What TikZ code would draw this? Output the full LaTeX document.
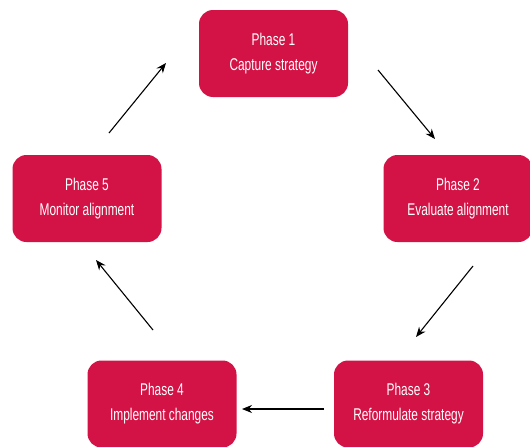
\documentclass[tikz,border=0pt]{standalone}
\usepackage{fontspec}
\setmainfont{Liberation Sans}[FakeStretch=0.7]
\usepackage{tikz}
\usetikzlibrary{arrows.meta}
\definecolor{phasered}{HTML}{D31245}
\tikzset{phase/.style={rectangle, rounded corners=14pt, fill=phasered, text=white, minimum width=149pt, minimum height=87pt, align=center, font=\fontsize{17}{25}\selectfont}}

\begin{document}
\begin{tikzpicture}[x=1pt, y=-1pt]
            \useasboundingbox (0,0) rectangle (530,447);
            % Nodes
            \node[phase] (p1) at (273.5, 53.5) {Phase 1\\Capture strategy};
            \node[phase] (p2) at (458, 198.5) {Phase 2\\Evaluate alignment};
            \node[phase] (p3) at (408.5, 404) {Phase 3\\Reformulate strategy};
            \node[phase] (p4) at (162, 404) {Phase 4\\Implement changes};
            \node[phase] (p5) at (87, 198.5) {Phase 5\\Monitor alignment};

            % Arrow ends
            \coordinate (a1) at (378, 70);
            \coordinate (b1) at (435, 139);
            \coordinate (a2) at (473, 266);
            \coordinate (b2) at (416, 337);
            \coordinate (a3) at (324, 409);
            \coordinate (b3) at (242, 409);
            \coordinate (a4) at (153, 330);
            \coordinate (b4) at (96, 260);
            \coordinate (a5) at (109, 133);
            \coordinate (b5) at (166, 63);

            % Edges
            \draw[-{Stealth[length=10pt, width=8pt]}, line width=1.1pt] (a1) -- (b1);
            \draw[-{Stealth[length=10pt, width=8pt]}, line width=1.1pt] (a2) -- (b2);
            \draw[-{Stealth[length=10pt, width=8pt]}, line width=1.1pt] (a3) -- (b3);
            \draw[-{Stealth[length=10pt, width=8pt]}, line width=1.1pt] (a4) -- (b4);
            \draw[-{Stealth[length=10pt, width=8pt]}, line width=1.1pt] (a5) -- (b5);
        \end{tikzpicture}
\end{document}
